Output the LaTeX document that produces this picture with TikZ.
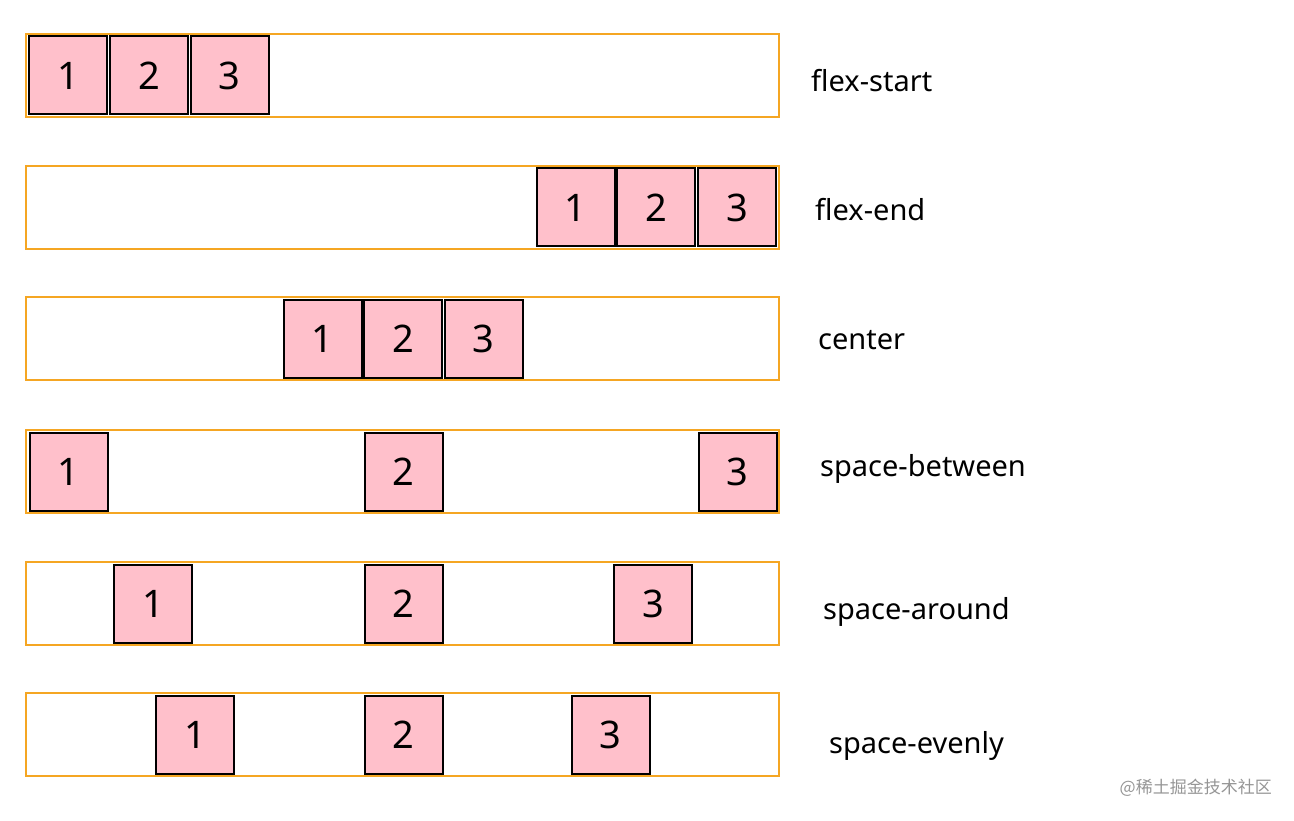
\documentclass[tikz,border=0pt]{standalone}
\usepackage{fontspec}
\setmainfont{Noto Sans}
\newfontfamily\cjk{Noto Sans CJK SC}
\begin{document}
\begin{tikzpicture}[x=1pt,y=-1pt,
  cont/.style={draw={rgb,255:red,245;green,166;blue,35},line width=2.5pt},
  item/.style={draw=black,line width=2pt,fill={rgb,255:red,255;green,192;blue,203},minimum width=78pt,minimum height=78pt,inner sep=0pt,font=\fontsize{38}{40}\selectfont},
  lab/.style={anchor=west,inner sep=0pt,font=\fontsize{29}{32}\selectfont}]
\useasboundingbox (0,0) rectangle (1294,821);
\fill[white] (0,0) rectangle (1294,821);
\foreach \r/\yt in {1/34,2/166,3/297,4/430,5/562,6/693}{
  \draw[cont] (26,\yt) rectangle (779,\yt+83);
}
\foreach \r/\yc/\a/\b/\c in {1/75.5/68/149/229.5, 2/207.5/575.5/656/737, 3/339/322.5/403/483.5, 4/471.5/68.5/403.5/737.5, 5/603.5/153/403.5/653, 6/735/195/403.5/610.5}{
  \node[item] (a\r) at (\a,\yc) {1};
  \node[item] (b\r) at (\b,\yc) {2};
  \node[item] (c\r) at (\c,\yc) {3};
}
\node[lab] (l1) at (811,81) {flex-start};
\node[lab] (l2) at (815,210) {flex-end};
\node[lab] (l3) at (818,340) {center};
\node[lab] (l4) at (820,469) {space-between};
\node[lab] (l5) at (823,612) {space-around};
\node[lab] (l6) at (829,746) {space-evenly};
\node[anchor=east,inner sep=0pt,text={rgb,255:red,150;green,150;blue,150},font=\cjk\fontsize{17}{19}\selectfont] (wm) at (1272,788) {@稀土掘金技术社区};
\end{tikzpicture}
\end{document}
